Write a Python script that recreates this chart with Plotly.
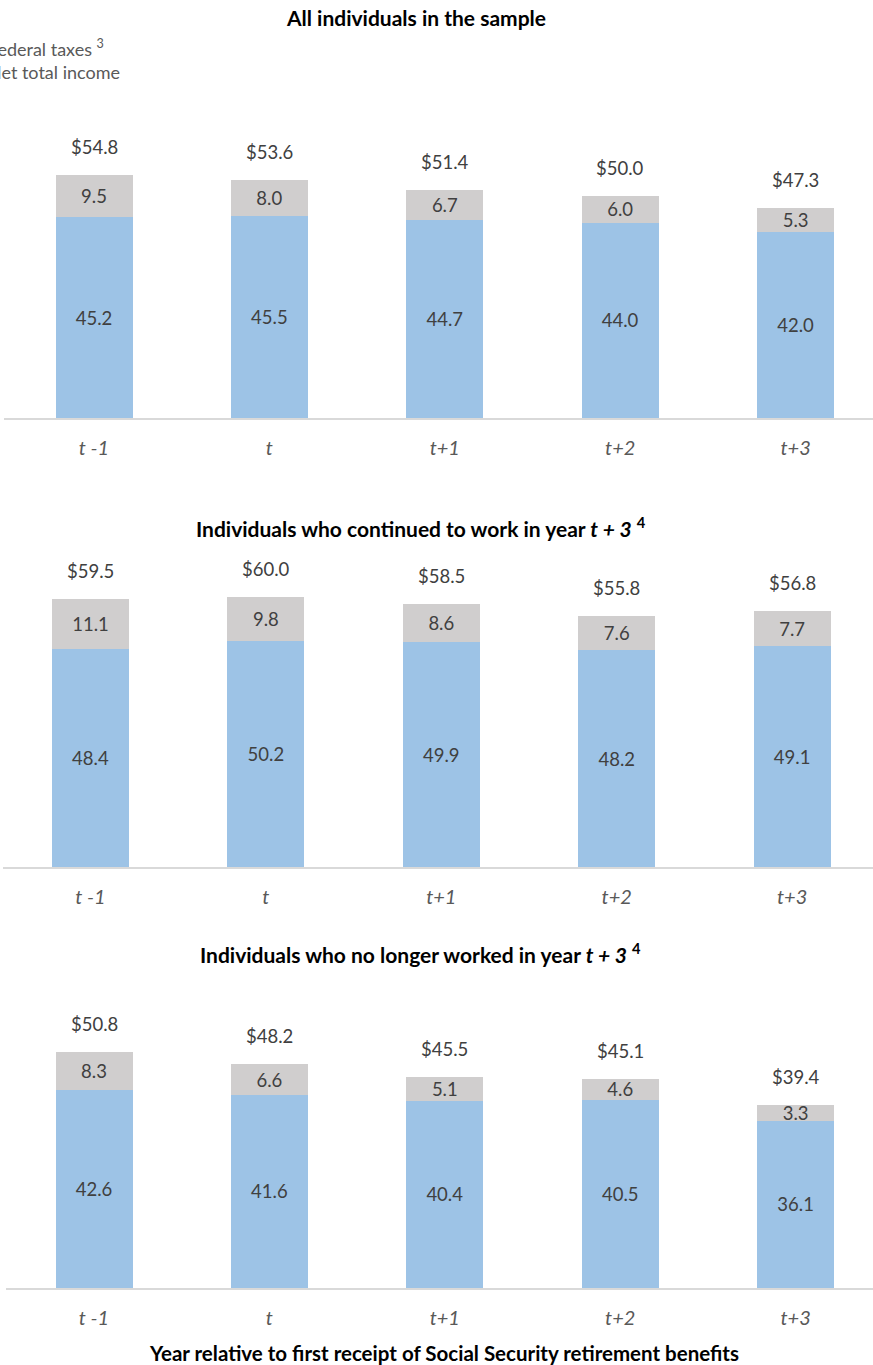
import plotly.graph_objects as go

# ---- data ----
categories = ["t -1", "t", "t+1", "t+2", "t+3"]

all_net_income = [45.2, 45.5, 44.7, 44.0, 42.0]
all_fed_taxes = [9.5, 8.0, 6.7, 6.0, 5.3]
all_totals = [54.8, 53.6, 51.4, 50.0, 47.3]

work_net_income = [48.4, 50.2, 49.9, 48.2, 49.1]
work_fed_taxes = [11.1, 9.8, 8.6, 7.6, 7.7]
work_totals = [59.5, 60.0, 58.5, 55.8, 56.8]

nowork_net_income = [42.6, 41.6, 40.4, 40.5, 36.1]
nowork_fed_taxes = [8.3, 6.6, 5.1, 4.6, 3.3]
nowork_totals = [50.8, 48.2, 45.5, 45.1, 39.4]

panel_titles = [
    "All individuals in the sample",
    "Individuals who continued to work in year <i>t + 3</i> <sup>4</sup>",
    "Individuals who no longer worked in year <i>t + 3</i> <sup>4</sup>",
]
x_title = "Year relative to first receipt of Social Security retirement benefits"
legend_labels = ["Federal taxes <sup>3</sup>", "Net total income"]

# ---- layout constants ----
W, H = 873, 1365
FONT = "Lato"
BLUE = "#9DC3E6"
GRAY = "#D0CECE"
LABEL_C = "#404040"
TICK_C = "#595959"
SPACING = 175.4
BAR_W = 77 / SPACING

panels = [
    dict(net=all_net_income, tax=all_fed_taxes, tot=all_totals,
         base=418, top=100, scale=4.44, c0=94.0, left=4, title_y=18, title_x=416),
    dict(net=work_net_income, tax=work_fed_taxes, tot=work_totals,
         base=867, top=550, scale=4.50, c0=90.5, left=3, title_y=527, title_x=421),
    dict(net=nowork_net_income, tax=nowork_fed_taxes, tot=nowork_totals,
         base=1288, top=990, scale=4.64, c0=94.0, left=6, title_y=953, title_x=420),
]

fig = go.Figure()
annotations = []
layout_axes = {}

for i, p in enumerate(panels):
    n = "" if i == 0 else str(i + 1)
    xa, ya = "x" + n, "y" + n
    fig.add_trace(go.Bar(
        x=categories, y=p["net"], xaxis=xa, yaxis=ya, width=BAR_W,
        marker=dict(color=BLUE, line=dict(width=0)),
        text=[f"{v:.1f}" for v in p["net"]], textposition="inside",
        insidetextanchor="middle", constraintext="none",
        textfont=dict(family=FONT, size=18.5, color=LABEL_C),
        name="Net total income", showlegend=False, hoverinfo="skip"))
    fig.add_trace(go.Bar(
        x=categories, y=p["tax"], xaxis=xa, yaxis=ya, width=BAR_W,
        marker=dict(color=GRAY, line=dict(width=0)),
        text=[f"{v:.1f}" for v in p["tax"]], textposition="inside",
        insidetextanchor="middle", constraintext="none",
        textfont=dict(family=FONT, size=18.5, color=LABEL_C),
        name="Federal taxes", showlegend=False, hoverinfo="skip"))
    for c, t in zip(categories, p["tot"]):
        annotations.append(dict(
            x=c, y=t, xref=xa, yref=ya, text=f"${t:.1f}", showarrow=False,
            yanchor="middle", yshift=28,
            font=dict(family=FONT, size=18.5, color=LABEL_C)))
    r0 = -(p["c0"] - p["left"]) / SPACING
    r1 = r0 + (W - p["left"]) / SPACING
    height_px = p["base"] - p["top"]
    layout_axes["xaxis" + n] = dict(
        domain=[p["left"] / W, 1], anchor=ya, type="category",
        categoryorder="array", categoryarray=categories,
        range=[r0, r1], showline=True, linecolor="#D9D9D9", linewidth=2,
        showgrid=False, zeroline=False, ticks="", ticklabelstandoff=11,
        tickfont=dict(family=FONT, size=20, color=TICK_C, style="italic"),
        fixedrange=True)
    layout_axes["yaxis" + n] = dict(
        domain=[1 - p["base"] / H, 1 - p["top"] / H], anchor=xa,
        range=[0, height_px / p["scale"]], visible=False, fixedrange=True)
    annotations.append(dict(
        x=p["title_x"] / W, y=1 - p["title_y"] / H, xref="paper", yref="paper",
        text=f"<b>{panel_titles[i]}</b>", showarrow=False,
        xanchor="center", yanchor="middle",
        font=dict(family=FONT, size=21, color="#000000")))

annotations.append(dict(
    x=444 / W, y=1 - 1353 / H, xref="paper", yref="paper",
    text=f"<b>{x_title}</b>", showarrow=False, xanchor="center", yanchor="middle",
    font=dict(family=FONT, size=20.5, color="#000000")))

for lbl, ypx in zip(legend_labels, [48, 72]):
    annotations.append(dict(
        x=-14 / W, y=1 - ypx / H, xref="paper", yref="paper", text=lbl,
        showarrow=False, xanchor="left", yanchor="middle",
        font=dict(family=FONT, size=18, color=TICK_C)))

fig.update_layout(
    width=W, height=H, autosize=False,
    margin=dict(l=0, r=0, t=0, b=0, pad=0),
    paper_bgcolor="white", plot_bgcolor="white",
    barmode="stack", showlegend=False,
    annotations=annotations, font=dict(family=FONT),
    **layout_axes)

fig.write_html("out.html",
               config={"displayModeBar": False},
               post_script="document.body.style.margin='0';document.body.style.padding='0';")
